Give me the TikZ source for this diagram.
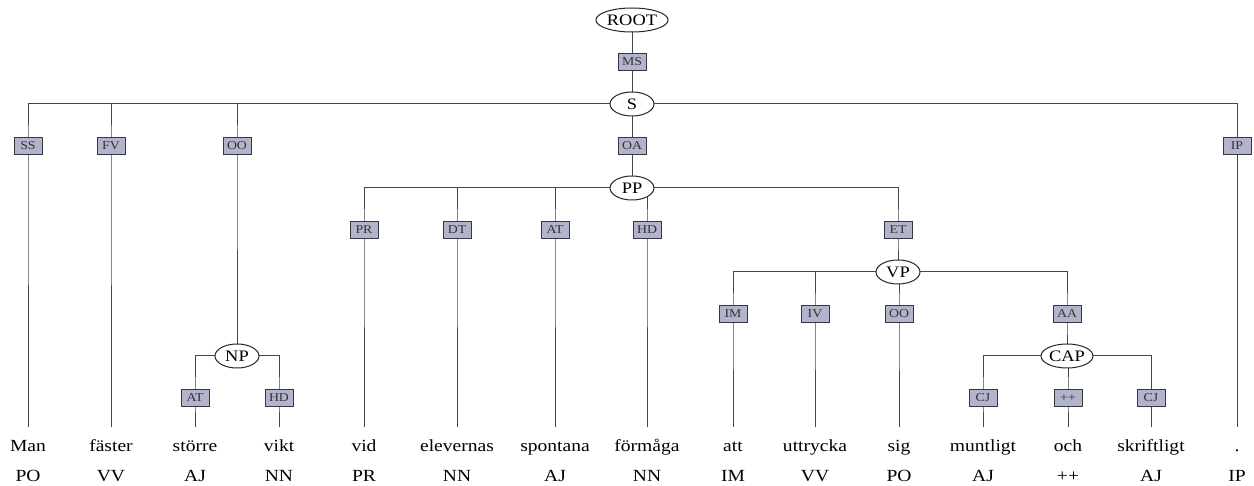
\documentclass[tikz,border=0pt]{standalone}
\usepackage{fontspec}
\setmainfont{Liberation Serif}[FakeStretch=1.15]
\usetikzlibrary{shapes.geometric, backgrounds}
\definecolor{edgefill}{RGB}{178,180,204}
\definecolor{edgeline}{RGB}{55,55,66}
\definecolor{branchgray}{RGB}{70,70,70}
\tikzset{
  catnode/.style  = {shape=ellipse, draw=black!85, fill=white, line width=1pt,
                     inner xsep=0.5pt, inner ysep=0pt,
                     minimum width=44pt, minimum height=24pt,
                     font=\fontsize{16}{18}\selectfont},
  funcnode/.style = {shape=rectangle, draw=edgeline, fill=edgefill,
                     line width=0.9pt, inner sep=1pt,
                     minimum width=28pt, minimum height=17pt,
                     text=black!80, font=\fontsize{12}{13}\selectfont},
  wordnode/.style = {anchor=base, inner ysep=0pt, outer ysep=13pt,
                     text height=12pt, text depth=4pt,
                     font=\fontsize{17}{19}\selectfont},
  posnode/.style  = {anchor=base, font=\fontsize{17}{19}\selectfont},
  branch/.style   = {draw=branchgray, line width=1pt}
}

\begin{document}
\begin{tikzpicture}[x=1pt, y=-1pt]
  \useasboundingbox (0,0) rectangle (1254,486);

  % phrases and edge labels
  \node [catnode]  (root) at (632,20)  {ROOT};
  \node [funcnode] (ms)   at (632,62)  {MS};
  \node [catnode]  (s)    at (632,104) {S};
  \node [funcnode] (ss)   at (28,146)   {SS};
  \node [funcnode] (fv)   at (111,146)  {FV};
  \node [funcnode] (oo1)  at (237,146)  {OO};
  \node [funcnode] (oa)   at (632,146)  {OA};
  \node [funcnode] (ip)   at (1237,146) {IP};
  \node [catnode]  (pp)   at (632,188) {PP};
  \node [funcnode] (pr)   at (364,230) {PR};
  \node [funcnode] (dt)   at (457,230) {DT};
  \node [funcnode] (at1)  at (555,230) {AT};
  \node [funcnode] (hd1)  at (647,230) {HD};
  \node [funcnode] (et)   at (898,230) {ET};
  \node [catnode]  (vp)   at (898,272) {VP};
  \node [funcnode] (im)   at (733,314)  {IM};
  \node [funcnode] (iv)   at (815,314)  {IV};
  \node [funcnode] (oo2)  at (899,314)  {OO};
  \node [funcnode] (aa)   at (1067,314) {AA};
  \node [catnode]  (np)   at (237,356)  {NP};
  \node [catnode]  (cap)  at (1067,356) {CAP};
  \node [funcnode] (at2)  at (195,398)  {AT};
  \node [funcnode] (hd2)  at (279,398)  {HD};
  \node [funcnode] (cj1)  at (983,398)  {CJ};
  \node [funcnode] (co)   at (1068,398) {++};
  \node [funcnode] (cj2)  at (1151,398) {CJ};

  % words and tags
  \foreach \x/\w/\p [count=\i] in {28/Man/PO, 111/fäster/VV, 195/större/AJ,
      279/vikt/NN, 364/vid/PR, 457/elevernas/NN, 555/spontana/AJ,
      647/förmåga/NN, 733/att/IM, 815/uttrycka/VV, 899/sig/PO,
      983/muntligt/AJ, 1068/och/++, 1151/skriftligt/AJ, 1237/./IP}
  {
    \node [wordnode] (w\i) at (\x,452) {\w};
    \node [posnode]  (p\i) at (\x,482) {\p};
  }

  \begin{pgfonlayer}{background}
    \draw [branch] (root.center) -- (s.center);
    \draw [branch] (s.center) -| (ss.center) -- (w1);
    \draw [branch] (s.center) -| (fv.center) -- (w2);
    \draw [branch] (s.center) -| (oo1.center) -- (np.center);
    \draw [branch] (s.center) -- (pp.center);
    \draw [branch] (s.center) -| (ip.center) -- (w15);
    \draw [branch] (np.center) -| (at2.center) -- (w3);
    \draw [branch] (np.center) -| (hd2.center) -- (w4);
    \draw [branch] (pp.center) -| (pr.center) -- (w5);
    \draw [branch] (pp.center) -| (dt.center) -- (w6);
    \draw [branch] (pp.center) -| (at1.center) -- (w7);
    \draw [branch] (pp.center) -| (hd1.center) -- (w8);
    \draw [branch] (pp.center) -| (et.center) -- (vp.center);
    \draw [branch] (vp.center) -| (im.center) -- (w9);
    \draw [branch] (vp.center) -| (iv.center) -- (w10);
    \draw [branch] (vp.center) -| (oo2.center) -- (w11);
    \draw [branch] (vp.center) -| (aa.center) -- (cap.center);
    \draw [branch] (cap.center) -| (cj1.center) -- (w12);
    \draw [branch] (cap.center) -| (co.center) -- (w13);
    \draw [branch] (cap.center) -| (cj2.center) -- (w14);
  \end{pgfonlayer}
\end{tikzpicture}
\end{document}
